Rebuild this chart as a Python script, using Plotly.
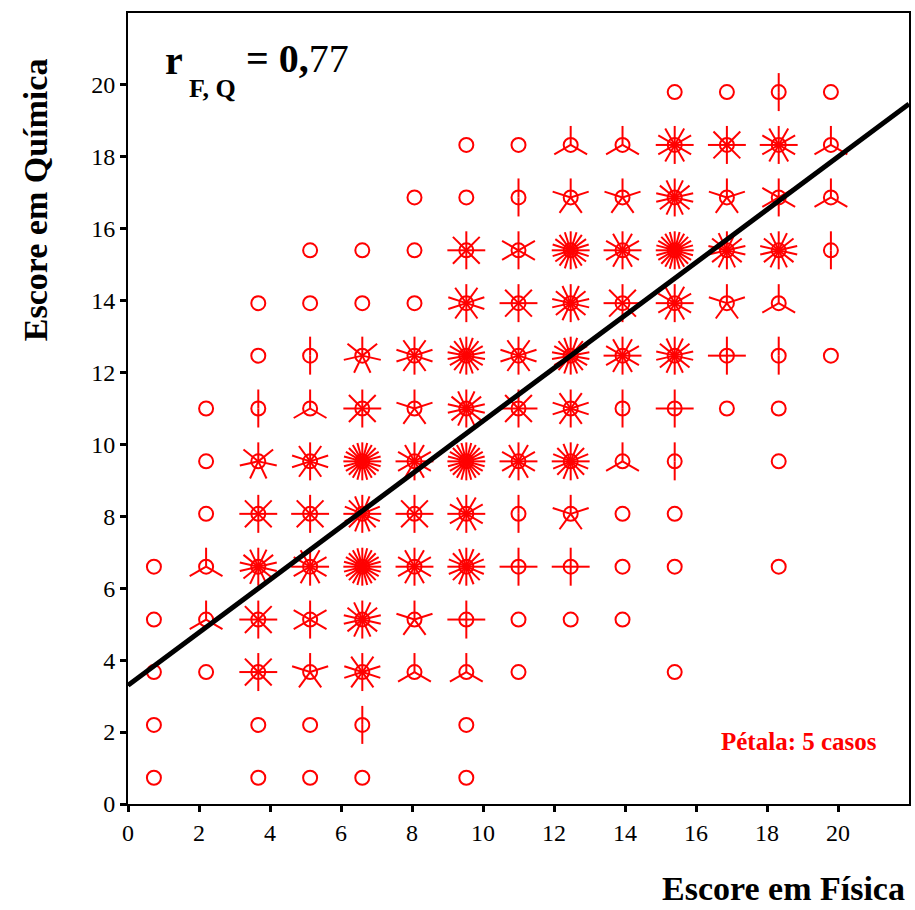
import numpy as np
import plotly.graph_objects as go

# Centres of the score bins (same binning on both axes)
bin_centers = [0.73, 2.2, 3.67, 5.13, 6.6, 8.07, 9.53, 11.0, 12.47, 13.93, 15.4, 16.87, 18.33, 19.8]

# Petals per cell (1 petal = 5 cases). Rows: Química bins from bottom to top,
# columns: Física bins from left to right. None = no cases in the cell.
N = None
petals = [
    [0, N, 0, 0, 0, N, 0, N, N, N, N, N, N, N],
    [0, N, 0, 0, 2, N, 0, N, N, N, N, N, N, N],
    [0, 0, 8, 5, 10, 3, 3, 0, N, N, 0, N, N, N],
    [0, 3, 8, 6, 14, 5, 4, 0, 0, 0, N, N, N, N],
    [0, 3, 14, 12, 24, 12, 16, 4, 4, 0, 0, N, 0, N],
    [N, 0, 8, 8, 16, 8, 12, 2, 5, 0, 0, N, N, N],
    [N, 0, 7, 10, 24, 12, 24, 12, 16, 3, 2, N, 0, N],
    [N, 0, 2, 3, 8, 5, 14, 8, 10, 2, 4, 0, 0, N],
    [N, N, 0, 2, 7, 10, 18, 10, 18, 12, 14, 4, 2, 0],
    [N, N, 0, 0, 0, 0, 10, 8, 14, 8, 12, 5, 3, N],
    [N, N, N, 0, 0, 0, 8, 6, 20, 12, 24, 14, 14, 2],
    [N, N, N, N, N, 0, 0, 2, 5, 5, 14, 5, 6, 3],
    [N, N, N, N, N, N, 0, 0, 3, 3, 12, 8, 12, 3],
    [N, N, N, N, N, N, N, N, N, N, 0, 0, 2, 0],
]

# Least-squares line of Química on Física
intercept = 3.3
slope = 0.735

x_ticks = list(range(0, 21, 2))
y_ticks = list(range(0, 21, 2))
axis_range = [0, 22]

RED = "#FF0000"
W, H = 915, 910
margin = dict(l=128, r=4, t=13, b=106)
plot_w = W - margin["l"] - margin["r"]
plot_h = H - margin["t"] - margin["b"]
petal_px = 19  # petal length in pixels
dx_unit = petal_px * (axis_range[1] - axis_range[0]) / plot_w
dy_unit = petal_px * (axis_range[1] - axis_range[0]) / plot_h


def paper_x(px_):
    return (px_ - margin["l"]) / plot_w


def paper_y(py_):
    return (H - margin["b"] - py_) / plot_h


cx, cy = [], []
px, py = [], []
for j, row in enumerate(petals):
    for i, n in enumerate(row):
        if n is None:
            continue
        x0, y0 = bin_centers[i], bin_centers[j]
        cx.append(x0)
        cy.append(y0)
        for k in range(n):
            ang = np.pi / 2 - 2 * np.pi * k / n
            px += [x0, x0 + dx_unit * np.cos(ang), None]
            py += [y0, y0 + dy_unit * np.sin(ang), None]

fig = go.Figure()
fig.add_trace(go.Scatter(x=px, y=py, mode="lines",
                         line=dict(color=RED, width=2), hoverinfo="skip"))
fig.add_trace(go.Scatter(x=cx, y=cy, mode="markers",
                         marker=dict(symbol="circle-open", size=14, color=RED,
                                     line=dict(width=2, color=RED))))
lx = np.array(axis_range, dtype=float)
fig.add_trace(go.Scatter(x=lx, y=intercept + slope * lx, mode="lines",
                         line=dict(color="black", width=5)))

serif = "Liberation Serif"
axis_common = dict(range=axis_range, showgrid=False, zeroline=False,
                   showline=True, linecolor="black", linewidth=2, mirror=True,
                   ticks="outside", ticklen=6, tickwidth=3, tickcolor="black",
                   tickfont=dict(family=serif, size=24, color="black"))
fig.update_xaxes(tickvals=x_ticks, **axis_common)
fig.update_yaxes(tickvals=y_ticks, **axis_common)

fig.update_layout(
    width=W, height=H, margin=margin, showlegend=False,
    plot_bgcolor="white", paper_bgcolor="white",
    annotations=[
        dict(text="<b>Escore em Física</b>", xref="paper", yref="paper",
             x=paper_x(909), y=paper_y(888), xanchor="right", yanchor="middle",
             showarrow=False, font=dict(family=serif, size=34, color="black")),
        dict(text="<b>Escore em Química</b>", xref="paper", yref="paper",
             x=paper_x(35), y=paper_y(200), xanchor="center", yanchor="middle",
             showarrow=False, textangle=-90,
             font=dict(family=serif, size=34, color="black")),
        dict(text="<b>r</b>", xref="paper", yref="paper",
             x=paper_x(163), y=paper_y(60), xanchor="left", yanchor="middle",
             showarrow=False, font=dict(family=serif, size=40, color="black")),
        dict(text="<b>F, Q</b>", xref="paper", yref="paper",
             x=paper_x(187), y=paper_y(88), xanchor="left", yanchor="middle",
             showarrow=False, font=dict(family=serif, size=26, color="black")),
        dict(text="<b>= 0,</b>77", xref="paper", yref="paper",
             x=paper_x(244), y=paper_y(59), xanchor="left", yanchor="middle",
             showarrow=False, font=dict(family=serif, size=40, color="black")),
        dict(text="<b>Pétala: 5 casos</b>", xref="paper", yref="paper",
             x=paper_x(881), y=paper_y(741), xanchor="right", yanchor="middle",
             showarrow=False, font=dict(family=serif, size=25, color=RED)),
    ],
)

fig.write_html("out.html")
